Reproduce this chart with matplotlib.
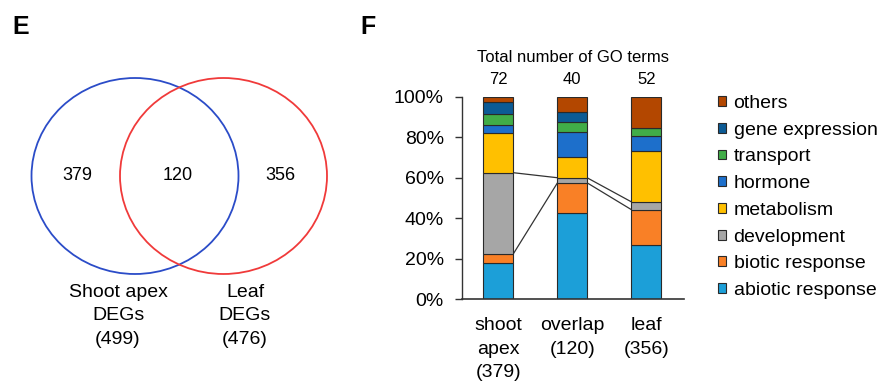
import numpy as np
import matplotlib
matplotlib.use("Agg")
import matplotlib.pyplot as plt
from matplotlib.patches import Ellipse, Patch

plt.rcParams["font.family"] = ["Liberation Sans", "DejaVu Sans"]

# panel E: Venn counts
venn_only_apex = 379
venn_overlap = 120
venn_only_leaf = 356
apex_total = 499
leaf_total = 476

# panel F: number of GO terms per category (bottom -> top)
categories = ["abiotic response", "biotic response", "development", "metabolism",
              "hormone", "transport", "gene expression", "others"]
groups = ["shoot\napex\n(379)", "overlap\n(120)", "leaf\n(356)"]
go_counts = {
    "shoot apex": [13, 3, 29, 14, 3, 4, 4, 2],
    "overlap":    [17, 6, 1, 4, 5, 2, 2, 3],
    "leaf":       [14, 9, 2, 13, 4, 2, 0, 8],
}
colors = ["#1C9FD8", "#F98026", "#A6A6A6", "#FFC000",
          "#1D6FCB", "#41AD48", "#0C5B95", "#B34700"]

fig = plt.figure(figsize=(8.85, 3.88), dpi=100)

# ---- overlay axes in pixel units (Venn + panel letters)
ov = fig.add_axes([0, 0, 1, 1])
ov.set_xlim(0, 885)
ov.set_ylim(388, 0)
ov.axis("off")

ov.text(12, 27, "E", fontsize=18, fontweight="bold", va="center", ha="left")
ov.text(360, 27, "F", fontsize=18, fontweight="bold", va="center", ha="left")

ov.add_patch(Ellipse((135, 176), 207, 196, fill=False, ec="#2B4CC8", lw=1.3))
ov.add_patch(Ellipse((223.5, 176), 207, 196, fill=False, ec="#F03A3A", lw=1.3))
ov.text(77, 176, str(venn_only_apex), fontsize=13, ha="center", va="center")
ov.text(178, 176, str(venn_overlap), fontsize=13, ha="center", va="center")
ov.text(280, 176, str(venn_only_leaf), fontsize=13, ha="center", va="center")
ov.text(118, 316, f"Shoot apex\nDEGs\n({apex_total})", fontsize=14,
        ha="center", va="center", linespacing=1.5)
ov.text(245, 316, f"Leaf\nDEGs\n({leaf_total})", fontsize=14,
        ha="center", va="center", linespacing=1.5)

# ---- panel F stacked bars
ax = fig.add_axes([462 / 885, 1 - 299.3 / 388, 222 / 885, (299.3 - 96.7) / 388])
x = np.arange(len(groups))
counts = np.array(list(go_counts.values()), dtype=float)  # groups x categories
totals = counts.sum(axis=1)
pct = counts / totals[:, None] * 100
bottoms = np.zeros(len(groups))
width = 0.4
for i, cat in enumerate(categories):
    ax.bar(x, pct[:, i], width, bottom=bottoms, color=colors[i],
           edgecolor="#2a2a2a", linewidth=0.8, label=cat, zorder=2)
    bottoms += pct[:, i]

# connector lines for the development segment
dev = categories.index("development")
dev_lo = pct[:, :dev].sum(axis=1)
dev_hi = dev_lo + pct[:, dev]
for a, b in [(0, 1), (1, 2)]:
    for y in (dev_lo, dev_hi):
        ax.plot([x[a] + width / 2, x[b] - width / 2], [y[a], y[b]],
                color="#333333", lw=0.9, zorder=1)

ax.set_xlim(-0.49, 2.51)
ax.set_ylim(0, 100)
ax.set_yticks(np.arange(0, 101, 20))
ax.set_yticklabels([f"{v}%" for v in range(0, 101, 20)])
ax.set_xticks(x)
ax.set_xticklabels(groups, linespacing=1.5)
ax.tick_params(axis="y", labelsize=14, length=5, width=1, pad=8, color="#333333")
ax.tick_params(axis="x", labelsize=14, length=0, pad=13)
for s in ["top", "right"]:
    ax.spines[s].set_visible(False)
ax.spines["left"].set_color("#333333")
ax.spines["bottom"].set_color("#333333")
ax.spines["left"].set_linewidth(1)
ax.spines["bottom"].set_linewidth(1.2)

ax.text(0.5, 1.195, "Total number of GO terms", transform=ax.transAxes,
        ha="center", va="center", fontsize=12)
for xi, t in zip(x, totals):
    ax.text(xi, 108.5, f"{int(t)}", ha="center", va="center", fontsize=12, clip_on=False)

handles = [Patch(facecolor=colors[i], edgecolor="#2a2a2a", linewidth=0.8, label=categories[i])
           for i in range(len(categories))][::-1]
fig.legend(handles=handles, loc="upper left", bbox_to_anchor=(718 / 885, 1 - 95 / 388),
           frameon=False, fontsize=14, handlelength=0.4, handleheight=0.4,
           handletextpad=0.4, labelspacing=0.5, borderaxespad=0, borderpad=0)

fig.savefig("out.png", dpi=100)
